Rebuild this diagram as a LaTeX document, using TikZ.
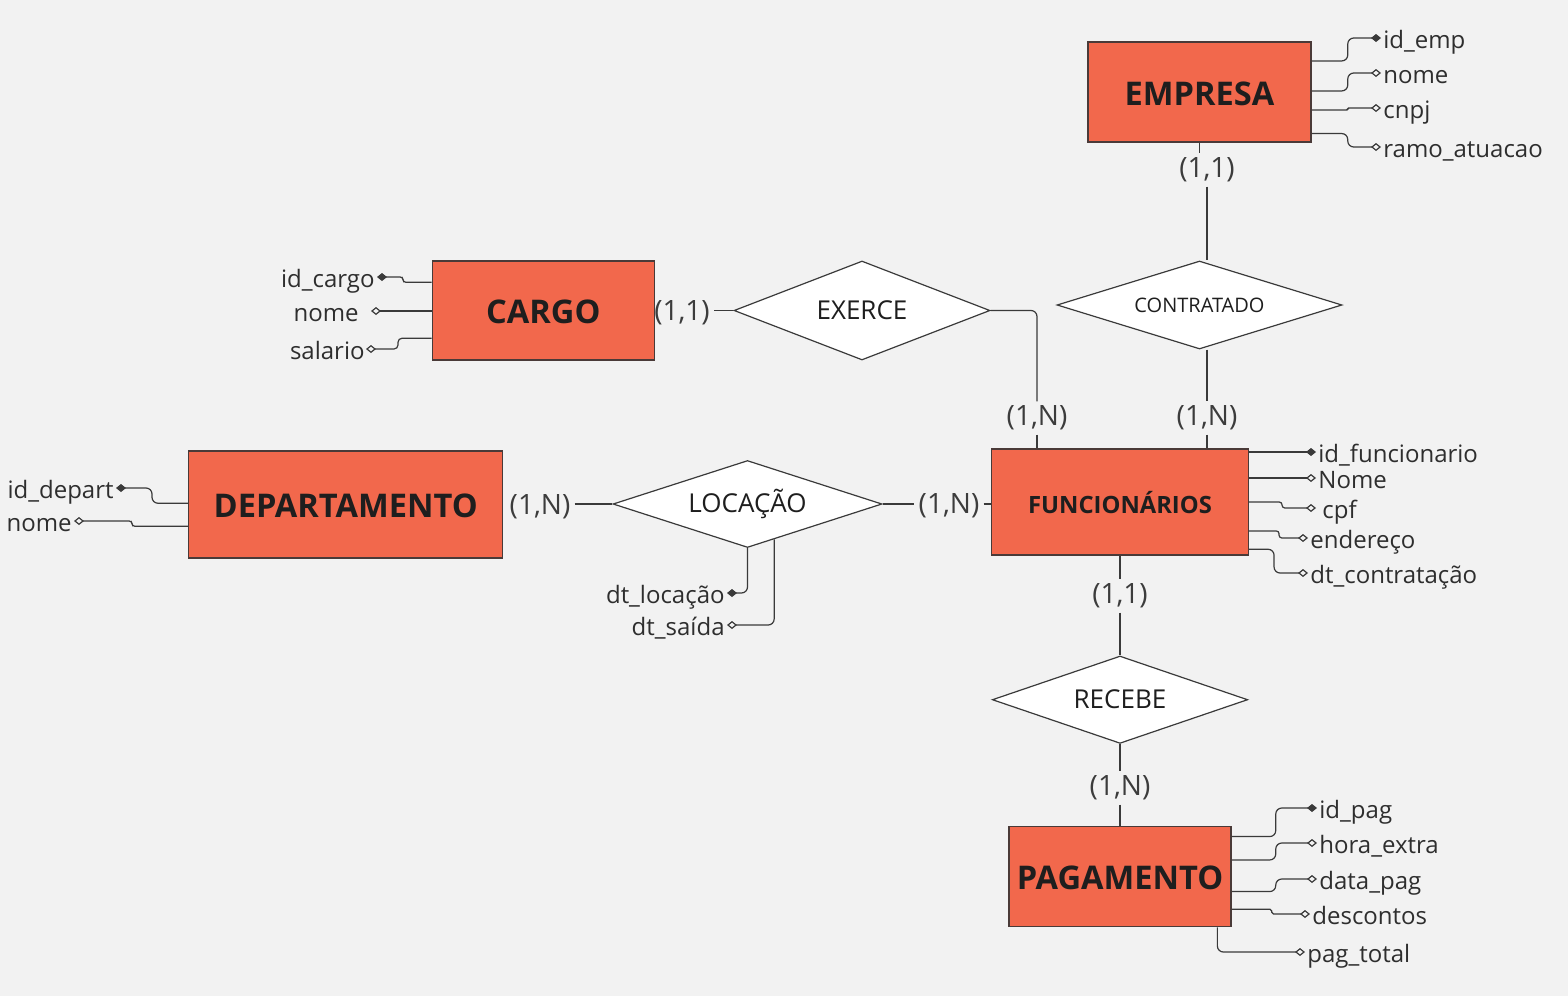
\documentclass[tikz,border=0pt]{standalone}
\usepackage{fontspec}
\setmainfont{Open Sans}
\usetikzlibrary{shapes.geometric,arrows.meta}
\definecolor{bgc}{HTML}{F2F2F2}
\definecolor{entfill}{HTML}{F2684C}
\definecolor{entdraw}{HTML}{4A3A38}
\definecolor{ink}{HTML}{1E1E1E}
\definecolor{linec}{HTML}{3A3A3A}
\definecolor{cardc}{HTML}{3C3C3C}
\definecolor{attc}{HTML}{2E2E2E}
\begin{document}
\begin{tikzpicture}[x=0.5pt,y=-0.5pt,
 ent/.style={draw=entdraw, fill=entfill, line width=0.75pt, font=\bfseries\fontsize{16.3}{19}\selectfont, text=ink, inner sep=0pt, text height=13pt, text depth=0pt},
 rel/.style={diamond, draw=linec, fill=white, line width=0.6pt, inner sep=0pt, font=\fontsize{13}{15}\selectfont, text=ink},
 card/.style={font=\fontsize{14}{16}\selectfont, text=cardc, inner sep=2pt},
 attr/.style={font=\fontsize{12}{14}\selectfont, text=attc, inner sep=1pt, text height=11pt, text depth=1pt},
 conn/.style={draw=linec, line width=0.6pt},
 aline/.style={draw=linec, line width=0.6pt, rounded corners=3pt},
 pk/.style={aline, -{Diamond[length=5pt,width=4pt]}},
 npk/.style={aline, -{Diamond[open,length=5pt,width=4pt]}},
 pkl/.style={aline, {Diamond[length=5pt,width=4pt]}-},
 npkl/.style={aline, {Diamond[open,length=5pt,width=4pt]}-},
]
\fill[bgc] (0,0) rectangle (1568,996);
\useasboundingbox (0,0) rectangle (1568,996);

% entities
\node[ent, minimum width=111.5pt, minimum height=50pt] (empresa) at (1199.5,92) {EMPRESA};
\node[ent, minimum width=111pt, minimum height=49.5pt] (cargo) at (543.3,310.5) {CARGO};
\node[ent, minimum width=157pt, minimum height=53.5pt] (dep) at (345.7,504.5) {DEPARTAMENTO};
\node[ent, minimum width=128.3pt, minimum height=53pt, font=\bfseries\fontsize{11.9}{14}\selectfont, text height=11pt] (func) at (1120,502) {FUNCIONÁRIOS};
\node[ent, minimum width=111pt, minimum height=50pt] (pag) at (1120,876.7) {PAGAMENTO};

% relationships
\node[rel, minimum width=128pt, minimum height=49.5pt, shape aspect=2.6] (exerce) at (862,310.5) {EXERCE};
\node[rel, minimum width=142.5pt, minimum height=44pt, shape aspect=3.2, font=\fontsize{10}{12}\selectfont] (contratado) at (1199.5,305) {CONTRATADO};
\node[rel, minimum width=134.5pt, minimum height=43.5pt, shape aspect=3.1] (locacao) at (747.5,504) {LOCAÇÃO};
\node[rel, minimum width=127.7pt, minimum height=43.7pt, shape aspect=2.9] (recebe) at (1120,699.7) {RECEBE};

% cardinalities
\node[card] (cemp) at (1207,170) {(1,1)};
\node[card] (ccargo) at (682,313) {(1,1)};
\node[card] (cexf) at (1037,418) {(1,N)};
\node[card] (cconf) at (1207,418) {(1,N)};
\node[card] (cdep) at (540,507) {(1,N)};
\node[card] (clocf) at (949,505.5) {(1,N)};
\node[card] (cfunr) at (1120,596) {(1,1)};
\node[card] (crpag) at (1120,788) {(1,N)};

% relationship connectors
\draw[conn] (empresa.south) -- (empresa.south |- cemp.north);
\draw[conn] (cemp.south) -- (cemp.south |- contratado.north);
\draw[conn] (cconf.north |- contratado.south) -- (cconf.north);
\draw[conn] (cconf.south) -- (cconf.south |- func.north);
\draw[conn, rounded corners=3pt] (exerce.east) -| (cexf.north);
\draw[conn] (cexf.south) -- (cexf.south |- func.north);
\draw[conn] (ccargo.east |- exerce.west) -- (exerce.west);
\draw[conn] (cdep.east |- locacao.west) -- (locacao.west);
\draw[conn] (locacao.east) -- (clocf.west |- locacao.east);
\draw[conn] (clocf.east |- locacao.east) -- (func.west |- locacao.east);
\draw[conn] (func.south) -- (cfunr.north);
\draw[conn] (cfunr.south) -- (recebe.north);
\draw[conn] (recebe.south) -- (crpag.north);
\draw[conn] (crpag.south) -- (pag.north);

% EMPRESA attributes
\node[attr, anchor=west] (eidemp) at (1381,38) {id\_emp};
\node[attr, anchor=west] (enome) at (1381,73) {nome};
\node[attr, anchor=west] (ecnpj) at (1381,108) {cnpj};
\node[attr, anchor=west] (eramo) at (1381,147) {ramo\_atuacao};
\draw[pk] ([yshift=-9.85pt]empresa.north east) -- ++(36,0) |- (eidemp.west);
\draw[npk] ([yshift=-24.85pt]empresa.north east) -- ++(36,0) |- (enome.west);
\draw[npk, rounded corners=0.6pt] ([yshift=-34.35pt]empresa.north east) -- ++(36,0) |- (ecnpj.west);
\draw[npk] ([yshift=-46.15pt]empresa.north east) -- ++(36,0) |- (eramo.west);

% CARGO attributes
\node[attr, anchor=east] (cidcargo) at (377,277) {id\_cargo};
\node[attr, anchor=east] (cnome) at (371,311) {nome\hspace*{5pt}};
\node[attr, anchor=east, inner sep=0.5pt] (csal) at (366,349) {salario};
\draw[pkl, rounded corners=1.4pt] (cidcargo.east) -- ++(26,0) |- ([yshift=-11pt]cargo.north west);
\draw[npkl] (cnome.east) -- (cargo.west |- cnome.east);
\draw[npkl, rounded corners=2pt] (csal.east) -- ++(32,0) |- ([yshift=-39pt]cargo.north west);

% DEPARTAMENTO attributes
\node[attr, anchor=east] (didep) at (116,488) {id\_depart};
\node[attr, anchor=east] (dnome) at (74,521) {nome};
\draw[pkl] (didep.east) -- ++(36,0) |- ([yshift=-26.5pt]dep.north west);
\draw[npkl, rounded corners=1.4pt] (dnome.east) -- ++(58,0) |- ([yshift=-38pt]dep.north west);

% LOCACAO attributes
\node[attr, anchor=east] (ldtloc) at (727,593) {dt\_locação};
\node[attr, anchor=east] (ldtsai) at (727,625) {dt\_saída};
\draw[pkl] (ldtloc.east) -| (locacao.south);
\draw[npkl] (ldtsai.east) -| (locacao.-53);

% FUNCIONARIOS attributes
\node[attr, anchor=west] (fid) at (1316,452) {id\_funcionario};
\node[attr, anchor=west] (fnome) at (1316,478) {Nome};
\node[attr, anchor=west] (fcpf) at (1316,508) {\hspace*{2pt}cpf};
\node[attr, anchor=west] (fend) at (1308,538) {endereço};
\node[attr, anchor=west] (fdt) at (1308,573) {dt\_contratação};
\draw[pk] (func.east |- fid.west) -- (fid.west);
\draw[npk] (func.east |- fnome.west) -- (fnome.west);
\draw[npk, rounded corners=1.4pt] (func.east) -- ++(33,0) |- (fcpf.west);
\draw[npk, rounded corners=1.4pt] ([yshift=-41.35pt]func.north east) -- ++(30,0) |- (fend.west);
\draw[npk] ([yshift=-50.5pt]func.north east) -- ++(25,0) |- (fdt.west);

% PAGAMENTO attributes
\node[attr, anchor=west] (pid) at (1317,808) {id\_pag};
\node[attr, anchor=west] (phora) at (1317,843) {hora\_extra};
\node[attr, anchor=west] (pdata) at (1317,879) {data\_pag};
\node[attr, anchor=west] (pdesc) at (1310,914) {descontos};
\node[attr, anchor=west] (ptot) at (1305,952) {pag\_total};
\draw[pk] ([yshift=-5.3pt]pag.north east) -- ++(44,0) |- (pid.west);
\draw[npk] ([yshift=-17pt]pag.north east) -- ++(44,0) |- (phora.west);
\draw[npk] ([yshift=-32.8pt]pag.north east) -- ++(44,0) |- (pdata.west);
\draw[npk, rounded corners=0.9pt] ([yshift=-41.65pt]pag.north east) -- ++(40,0) |- (pdesc.west);
\draw[npk] ([xshift=-7.2pt]pag.south east) |- (ptot.west);
\end{tikzpicture}
\end{document}
